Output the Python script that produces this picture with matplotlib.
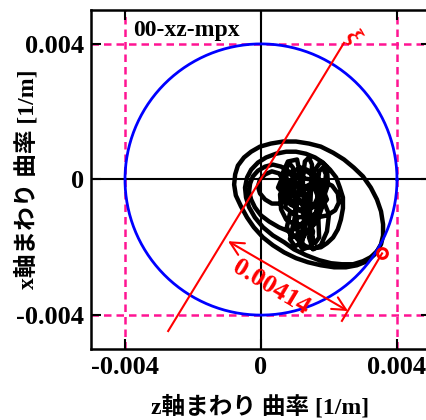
import numpy as np
import matplotlib
matplotlib.use("Agg")
import matplotlib.pyplot as plt

plt.rcParams['font.family'] = ['Liberation Serif', 'Noto Sans CJK JP', 'DejaVu Sans']
plt.rcParams['font.weight'] = 'bold'

# curvature trajectory, values in 1e-3 [1/m]
traj_z = [
    # outer loop
    3.47, 3.32, 3.12, 2.82, 2.50, 2.15, 1.76, 1.38, 1.03, 0.68, 0.35, 0.06, -0.21,
    -0.41, -0.59, -0.74, -0.79, -0.76, -0.68, -0.50, -0.29, -0.03, 0.29, 0.65, 1.03,
    1.41, 1.76, 2.12, 2.44, 2.73, 3.00, 3.23, 3.41, 3.53, 3.59, 3.59, 3.53, 3.41,
    3.23, 3.00, 2.71, 2.38, 2.06, 1.71, 1.32,
    # second loop
    0.97, 0.68, 0.35, 0.06, -0.18, -0.35, -0.44, -0.47, -0.41, -0.29, -0.09, 0.15,
    0.44, 0.74, 1.03, 1.32, 1.59, 1.82, 2.03, 2.21, 2.32, 2.41, 2.41, 2.35, 2.26,
    2.12, 1.94, 1.76, 1.53, 1.32, 1.15, 1.03,
    # small loops on the left
    0.82, 0.53, 0.24, 0.00, -0.18, -0.29, -0.35, -0.32, -0.24, -0.09, 0.12, 0.35,
    0.59, 0.79, 0.94, 1.00, 0.94, 0.79, 0.56, 0.32, 0.12, -0.03, -0.09, -0.03, 0.12,
    0.32, 0.53, 0.65, 0.62,
    # loop on the right
    1.03, 1.26, 1.53, 1.82, 2.09, 2.26, 2.29, 2.18, 1.94, 1.65, 1.35, 1.15,
    # dense scribble
    0.88, 0.76, 0.74, 0.82, 0.94, 0.97, 1.03, 1.09, 1.18, 1.26, 1.26, 1.23, 1.29,
    1.41, 1.50, 1.47, 1.44, 1.47, 1.59, 1.71, 1.68, 1.65, 1.71, 1.82, 1.91, 1.85,
    1.71, 1.41, 1.03, 0.74, 0.59, 0.56, 0.74, 1.09, 1.47, 1.76, 1.82, 1.65, 1.35,
    1.12, 1.23, 1.47, 1.53, 1.32, 1.12, 0.94, 0.88, 1.06, 1.35, 1.62, 1.71, 1.53,
    1.18, 0.85, 0.76, 0.91, 1.18, 1.35, 1.35, 1.18, 0.97, 0.82, 0.88,
    0.68, 0.62, 0.79, 1.06, 1.15, 1.09, 0.97, 0.85, 1.00, 1.21, 1.32, 1.38, 1.59,
    1.76, 1.94, 1.97, 1.82, 2.00, 1.94, 1.76, 1.53, 1.41, 1.56, 1.71, 1.53, 1.18,
    0.76, 0.50, 0.65, 1.18, 1.71, 1.94, 1.62, 1.09, 0.71, 0.79, 1.26, 1.47, 1.26,
    0.97]
traj_x = [
    -2.06, -2.23, -2.41, -2.53, -2.59, -2.59, -2.53, -2.44, -2.32, -2.15, -1.94,
    -1.71, -1.41, -1.12, -0.79, -0.47, -0.15, 0.15, 0.41, 0.65, 0.82, 0.97, 1.06,
    1.12, 1.12, 1.06, 0.97, 0.79, 0.59, 0.35, 0.09, -0.24, -0.59, -0.94, -1.32,
    -1.65, -1.91, -2.12, -2.29, -2.41, -2.50, -2.50, -2.47, -2.38, -2.23,
    -2.06, -1.85, -1.65, -1.41, -1.12, -0.82, -0.53, -0.24, 0.06, 0.29, 0.50, 0.65,
    0.76, 0.82, 0.82, 0.76, 0.65, 0.50, 0.29, 0.06, -0.24, -0.53, -0.85, -1.18,
    -1.47, -1.71, -1.88, -2.00, -2.03, -1.97, -1.85, -1.71,
    -1.53, -1.41, -1.24, -1.06, -0.82, -0.59, -0.35, -0.12, 0.09, 0.26, 0.38, 0.44,
    0.38, 0.26, 0.06, -0.18, -0.41, -0.59, -0.71, -0.71, -0.59, -0.41, -0.21, 0.00,
    0.15, 0.24, 0.18, 0.00, -0.24,
    -0.44, -0.24, -0.09, -0.06, -0.18, -0.41, -0.68, -0.91, -1.06, -1.12, -1.06,
    -0.91,
    -0.74, -0.15, 0.29, 0.50, 0.35, -0.29, -1.03, -1.62, -1.76, -1.53, -0.74, 0.00,
    0.53, 0.65, 0.44, -0.29, -1.03, -1.62, -1.88, -1.71, -1.03, -0.29, 0.24, 0.35,
    0.15, -0.44, -0.88, -1.24, -1.35, -1.18, -0.88, -0.44, -0.09, 0.06, 0.00, -0.29,
    -0.74, -1.24, -1.53, -1.91, -2.06, -1.97, -1.53, -0.94, -0.59, -0.44, -0.15,
    0.15, 0.29, 0.12, -0.44, -0.82, -0.88, -1.00, -1.41, -1.71, -1.59, -1.12, -0.59,
    -0.18, -0.06, -0.29, -0.74,
    -0.59, 0.15, 0.53, 0.59, 0.15, -0.59, -1.24, -1.76, -1.97, -1.85, -1.32, -0.44,
    0.29, 0.53, 0.35, -0.15, -0.59, -1.03, -1.53, -1.94, -2.06, -1.71, -1.18, -0.59,
    -0.15, -0.35, -0.53, -0.24, 0.12, 0.35, 0.00, -0.59, -1.03, -1.12, -0.82, -0.44,
    -0.44, -0.74, -1.32, -1.47]
traj_z = np.array(traj_z) * 1e-3
traj_x = np.array(traj_x) * 1e-3

radius = 0.004
limit_lines = [-0.004, 0.004]
ticks = [-0.004, 0, 0.004]
tick_labels = ['-0.004', '0', '0.004']

# red construction lines
line1_z = [-0.00273, 0.00244]
line1_x = [-0.00447, 0.00403]
line2_z = [0.00238, 0.00356]
line2_x = [-0.00417, -0.00218]
start_pt = (0.00356, -0.00218)
arrow_a = (-0.00097, -0.00182)
arrow_b = (0.00256, -0.00388)
width_text = '0.00414'

fig = plt.figure(figsize=(4.27, 4.20), dpi=100)
ax = fig.add_axes([91 / 427, 71 / 420, 340 / 427, 339 / 420])

for v in limit_lines:
    ax.axvline(v, color='#ff1493', lw=1.8, dashes=(3, 2), zorder=1)
    ax.axhline(v, color='#ff1493', lw=1.8, dashes=(3, 2), zorder=1)
ax.axhline(0, color='black', lw=1.5, zorder=1)
ax.axvline(0, color='black', lw=1.5, zorder=1)

ax.plot(traj_z, traj_x, color='black', lw=3.2, solid_joinstyle='round',
        solid_capstyle='round', zorder=2)

th = np.linspace(0, 2 * np.pi, 400)
ax.plot(radius * np.cos(th), radius * np.sin(th), color='blue', lw=2.0, zorder=3)

ax.plot(line1_z, line1_x, color='red', lw=1.5, zorder=4)
ax.plot(line2_z, line2_x, color='red', lw=1.5, zorder=4)
ax.plot(*start_pt, 'o', ms=7, mfc='none', mec='red', mew=2.2, zorder=5)
ax.annotate('', xy=arrow_a, xytext=arrow_b,
            arrowprops=dict(arrowstyle='<->', color='red', lw=1.5, mutation_scale=24,
                            shrinkA=0, shrinkB=0), zorder=4)
ax.text(0.00029, -0.00318, width_text, color='red', fontsize=19, fontweight='bold',
        rotation=-31, ha='center', va='center', rotation_mode='anchor', zorder=5)
ax.text(0.00268, 0.00423, 'ξ', color='red', fontsize=17, rotation=-60,
        ha='center', va='center', zorder=5)

ax.text(-0.00376, 0.00441, '00-xz-mpx', fontsize=17, fontweight='bold',
        ha='left', va='center')

ax.set_xlim(-0.005, 0.005)
ax.set_ylim(-0.005, 0.005)
ax.set_xticks(ticks)
ax.set_xticklabels(tick_labels)
ax.set_yticks(ticks)
ax.set_yticklabels(tick_labels)
ax.tick_params(direction='in', top=True, right=True, length=7, width=1.5,
               labelsize=19, pad=5)
for sp in ax.spines.values():
    sp.set_linewidth(1.8)

ax.set_xlabel('z軸まわり 曲率 [1/m]', fontsize=17, fontweight='bold')
ax.set_ylabel('x軸まわり 曲率 [1/m]', fontsize=17, fontweight='bold')
ax.xaxis.set_label_coords(0.497, -0.136)
ax.yaxis.set_label_coords(-0.155, 0.5)

fig.savefig('out.png', dpi=100)
